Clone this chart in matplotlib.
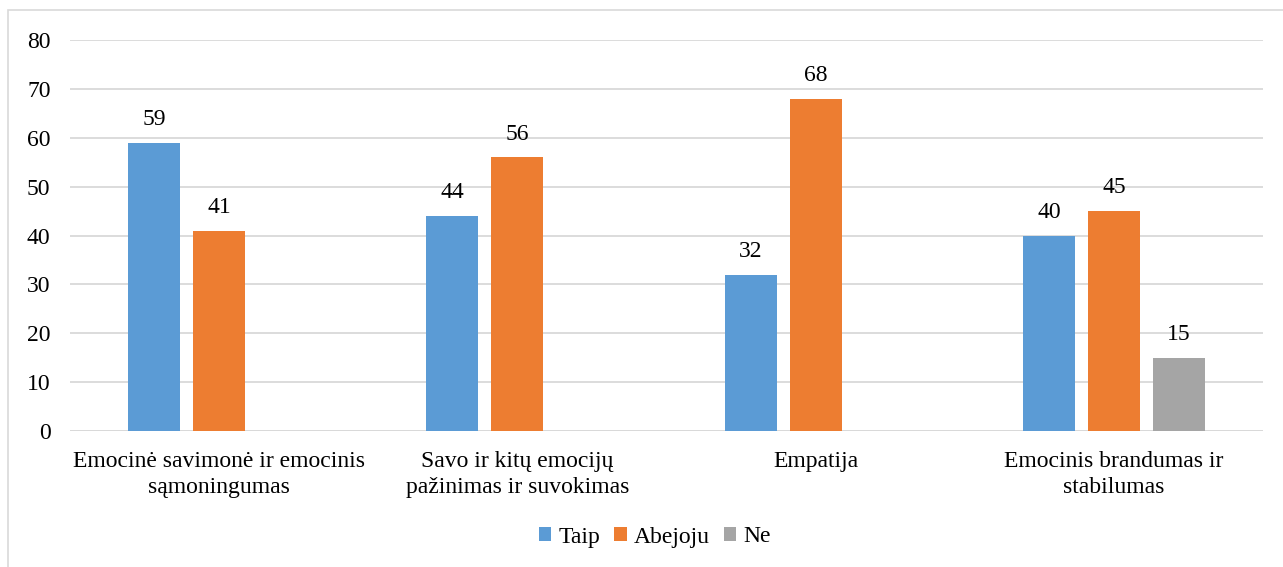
import matplotlib
matplotlib.use("Agg")
import matplotlib.pyplot as plt
import numpy as np
from matplotlib.patches import Rectangle

categories = ["Emocinė savimonė ir emocinis\nsąmoningumas",
              "Savo ir kitų emocijų\npažinimas ir suvokimas",
              "Empatija",
              "Emocinis brandumas ir\nstabilumas"]
series_names = ["Taip", "Abejoju", "Ne"]
taip = [59, 44, 32, 40]
abejoju = [41, 56, 68, 45]
ne = [0, 0, 0, 15]
colors = ["#5b9bd5", "#ed7d31", "#a5a5a5"]

plt.rcParams['font.family'] = ['Liberation Serif', 'DejaVu Serif']
FS = 17

fig = plt.figure(figsize=(12.83, 5.67), dpi=100)
ax = fig.add_axes([70/1283, 1-431/567, (1263-70)/1283, (431-40)/567])

x = np.arange(len(categories))
w = 0.175
off = 0.218
for i, (vals, name) in enumerate(zip([taip, abejoju, ne], series_names)):
    pos = x + (i - 1) * off
    ax.bar(pos, vals, width=w, color=colors[i], label=name, zorder=3)
    for p, v in zip(pos, vals):
        if v > 0:
            ax.text(p, v + 2.6, str(v), ha='center', va='bottom', fontsize=FS, color='#000000')

ax.set_xlim(-0.5, 3.5)
ax.set_ylim(0, 80)
ax.set_yticks(range(0, 81, 10))
ax.yaxis.grid(True, color='#d9d9d9', linewidth=1.3, zorder=0)
ax.set_axisbelow(True)
for s in ax.spines.values():
    s.set_visible(False)
ax.tick_params(axis='y', length=0, labelsize=FS, pad=14)
ax.tick_params(axis='x', length=0, labelsize=FS, pad=14.5)
ax.set_xticks(x)
ax.set_xticklabels(categories, linespacing=1.3)
ax.axhline(0, color='#d9d9d9', linewidth=1.3, zorder=1)

ax.legend(loc='center', bbox_to_anchor=(655/1283, 1-537/567), bbox_transform=fig.transFigure,
          ncol=3, frameon=False, fontsize=FS, handlelength=0.52, handleheight=0.52,
          handletextpad=0.3, columnspacing=0.6)

fig.patches.append(Rectangle((8/1283, -0.1), 1.1, 1-10/567+0.1, transform=fig.transFigure,
                             fill=False, edgecolor='#d9d9d9', linewidth=1.2))

fig.savefig("out.png", dpi=100)
